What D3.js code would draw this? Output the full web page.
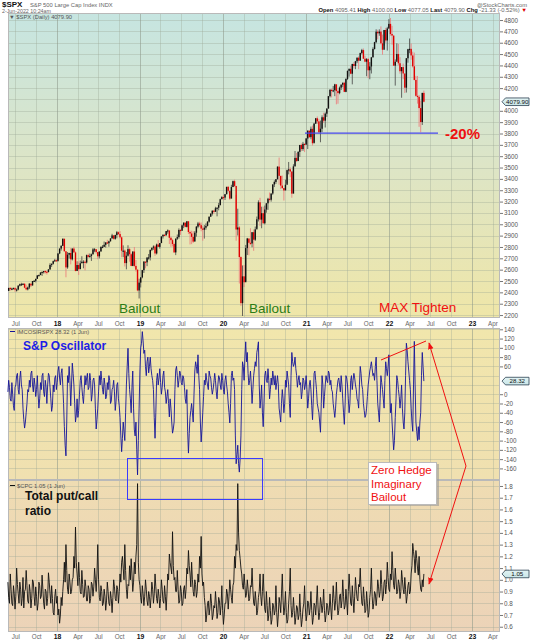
<!DOCTYPE html>
<html><head><meta charset="utf-8">
<script src="https://cdn.jsdelivr.net/npm/d3@7"></script>
<style>body{margin:0;background:#fff;}svg{display:block;font-family:"Liberation Sans",Arial,sans-serif;}</style>
</head><body><svg id="c" width="533" height="640"></svg>
<script>
// ---------- DATA ----------
// SPX: weekly bars, first week ending 2017-06-02
const firstWeek = "2017-06-02";
const spxClose = [
2439,2432,2433,2438,2423,2425,2459,2472,2472,2476,2441,2426,2443,2477,2461,2500,2502,2519,2549,2553,2575,2581,2588,2582,2579,2602,2642,2652,2675,2683,2674,
2743,2786,2810,2873,2762,2620,2732,2747,2691,2786,2752,2588,2641,2604,2656,2670,2670,2663,2728,2713,2721,2735,2779,2780,2755,2718,2760,2801,2802,2819,2840,2833,2850,2875,2902,2872,2905,2930,2914,2885,2767,2768,2658,2723,2781,2736,2633,2760,2633,2600,2417,2486,
2532,2596,2671,2665,2707,2708,2775,2793,2804,2743,2822,2801,2834,2893,2907,2905,2940,2946,2881,2860,2826,2752,2873,2887,2950,2942,2990,3014,2977,3026,2932,2919,2889,2847,2926,2979,3007,2992,2962,2952,2970,2986,3023,3067,3093,3120,3110,3141,3146,3169,3221,3240,
3235,3265,3330,3295,3226,3328,3380,3338,2954,2972,2711,2305,2541,2489,2790,2875,2837,2831,2930,2864,2955,3044,3194,3041,3098,3009,3130,3185,3225,3216,3271,3351,3373,3397,3508,3427,3341,3319,3298,3348,3477,3484,3465,3270,3510,3585,3557,3638,3699,3663,3709,3703,3756,
3825,3768,3841,3714,3887,3934,3907,3811,3842,3943,3913,3975,4020,4129,4185,4180,4181,4233,4174,4156,4204,4230,4247,4167,4281,4352,4370,4327,4412,4395,4437,4468,4442,4509,4535,4459,4433,4455,4357,4391,4471,4545,4605,4697,4683,4698,4595,4538,4712,4620,4726,4766,
4677,4663,4398,4432,4501,4419,4349,4385,4329,4204,4463,4543,4546,4488,4392,4272,4132,4123,4024,3901,4158,4080];
const spxHigh = [
2440,2446,2441,2442,2447,2434,2463,2477,2484,2480,2480,2468,2451,2480,2475,2500,2508,2520,2552,2557,2576,2582,2589,2597,2590,2605,2657,2654,2680,2695,2692,
2743,2787,2815,2873,2870,2763,2755,2749,2790,2787,2802,2761,2674,2672,2680,2718,2683,2682,2733,2742,2742,2742,2791,2790,2780,2754,2760,2804,2816,2848,2841,2863,2855,2877,2916,2902,2908,2941,2937,2940,2893,2814,2778,2756,2815,2795,2746,2760,2800,2685,2601,2520,
2532,2598,2675,2671,2709,2738,2775,2795,2814,2816,2830,2861,2835,2893,2911,2916,2940,2955,2933,2892,2871,2838,2875,2910,2964,2958,2996,3017,3017,3028,3028,2944,2943,2939,2940,2985,3021,3022,3016,2983,2993,3008,3027,3068,3098,3121,3127,3154,3150,3188,3226,3248,
3258,3267,3330,3338,3285,3348,3385,3393,3259,3137,2985,2718,2637,2641,2818,2880,2871,2965,2932,2954,2980,3068,3211,3233,3155,3155,3165,3185,3233,3280,3272,3352,3387,3399,3510,3588,3425,3429,3320,3393,3482,3549,3502,3466,3529,3646,3628,3644,3699,3712,3726,3712,3760,
3827,3823,3861,3870,3894,3937,3950,3929,3914,3960,3983,3986,4021,4130,4191,4195,4219,4238,4236,4187,4214,4234,4249,4256,4286,4355,4372,4394,4415,4430,4440,4470,4480,4513,4546,4549,4486,4465,4466,4429,4475,4560,4608,4718,4714,4718,4744,4672,4713,4731,4740,4808,
4818,4749,4663,4453,4595,4590,4472,4386,4416,4299,4465,4546,4637,4593,4521,4513,4308,4307,4140,4090,4158,4178];
const spxLow = [
2413,2415,2419,2428,2405,2407,2418,2452,2459,2464,2437,2418,2417,2429,2447,2460,2494,2488,2520,2541,2551,2545,2566,2566,2557,2576,2600,2624,2645,2672,2673,
2682,2737,2768,2808,2759,2533,2608,2698,2647,2681,2748,2586,2593,2553,2610,2660,2612,2594,2655,2705,2707,2677,2735,2754,2741,2692,2699,2760,2789,2800,2795,2830,2802,2848,2876,2864,2864,2876,2904,2874,2710,2710,2628,2603,2715,2670,2631,2631,2621,2583,2409,2346,
2443,2524,2571,2612,2631,2688,2681,2764,2775,2722,2734,2800,2785,2849,2874,2898,2897,2917,2826,2801,2805,2750,2728,2862,2873,2906,2952,2966,2974,2972,2914,2822,2825,2835,2853,2891,2965,2978,2938,2855,2874,2952,2981,3014,3064,3077,3092,3112,3070,3123,3166,3221,
3212,3214,3264,3280,3214,3235,3329,3328,2855,2901,2478,2281,2192,2447,2500,2729,2727,2816,2797,2766,2853,2969,3025,2984,2965,3004,2999,3102,3127,3200,3200,3260,3328,3356,3396,3349,3310,3313,3209,3303,3361,3440,3415,3234,3280,3511,3550,3565,3594,3645,3647,3636,3699,
3663,3760,3749,3694,3725,3884,3885,3805,3723,3812,3894,3853,3946,4020,4118,4118,4164,4129,4057,4062,4146,4183,4208,4165,4164,4272,4301,4322,4233,4373,4367,4420,4367,4441,4498,4457,4428,4305,4288,4278,4329,4471,4540,4595,4630,4661,4585,4495,4575,4600,4531,4722,
4662,4582,4395,4222,4451,4401,4327,4115,4279,4157,4161,4424,4507,4450,4381,4268,4124,4063,3859,3811,3875,4074];
// Oscillator and put/call: two readings per week (3.5-day steps)
const oscValues = [
5,30,15,-10,-15,25,0,-25,-35,15,20,40,45,10,0,35,50,20,10,-30,
-55,-73,-60,-40,-20,10,5,30,15,45,50,20,5,35,20,-5,10,40,0,-30,
-10,25,10,40,45,5,-5,30,15,-20,20,45,40,15,-10,-37,-25,20,5,35,
40,10,25,50,60,35,20,45,55,20,-20,-70,-110,-133,-60,40,25,60,30,-25,
20,67,45,20,-20,-60,-45,-10,-50,-35,0,30,40,15,-5,-20,10,40,20,35,
45,10,15,45,30,-15,0,30,35,20,-30,-75,-55,-30,5,40,20,50,30,10,
0,35,20,-10,-5,25,10,40,30,-20,-15,10,15,30,5,-35,-15,20,25,-10,
-25,-50,-90,-124,-95,-60,-80,-100,-40,20,60,99,45,10,-10,-40,15,50,-30,-77,
-90,-60,-120,-174,-100,-30,50,100,110,135,115,88,95,60,40,70,80,46,60,80,
55,40,30,10,-50,-95,-40,30,45,20,35,55,25,0,15,40,50,15,5,-20,
-5,10,-20,-49,-10,-30,-60,-84,-75,-60,10,52,60,40,15,30,50,45,25,20,
40,35,15,-10,-20,10,-80,-127,-85,-50,-35,-20,-40,-60,0,50,70,60,45,85,
40,10,-60,-103,-75,-40,-5,30,20,45,30,20,10,50,40,35,15,0,10,25,
45,30,5,-10,20,40,35,20,10,45,30,10,0,30,40,20,5,-20,-40,-62,
-20,40,50,30,35,10,-90,-150,-130,-110,-150,-168,-140,-90,10,70,60,30,80,113,
70,90,45,20,30,50,20,-20,10,40,55,70,60,90,100,113,20,-30,-10,20,
-40,-70,-20,40,50,30,25,55,30,-10,10,35,20,50,35,20,40,10,25,40,
20,-30,-45,-60,-20,10,-10,-40,-20,30,15,50,35,20,-20,-50,40,90,70,60,
65,80,55,40,15,30,40,20,25,-10,5,35,30,10,20,40,10,-30,-10,20,
30,10,-25,-55,-10,45,50,30,10,-20,-30,-40,-60,-82,-20,40,20,-30,-5,20,
40,30,25,50,45,20,30,10,5,-20,-35,-50,-30,0,15,30,35,20,5,40,
20,-10,-40,-65,-20,40,35,20,-10,-40,-20,30,40,10,30,45,35,20,10,-10,
-15,-30,20,60,45,20,10,-20,-35,-50,-45,-30,-5,20,35,50,60,70,55,40,
45,30,60,80,30,-20,-40,-60,-10,40,25,10,-10,-30,30,70,55,40,60,85,
20,-40,-20,-60,-90,-120,-100,-50,-10,40,30,10,-5,-30,-10,20,-30,-60,-75,-40,
40,110,95,70,50,30,10,-30,-60,-80,20,114,20,-60,-80,-100,-70,-98,-60,-40,
40,90,60,28.32];
const cpcValues = [
0.98,0.85,0.80,1.05,0.92,0.80,0.78,0.95,0.88,0.75,0.86,1.10,0.96,0.88,0.80,0.98,0.92,0.78,0.84,1.02,
0.76,0.90,0.92,1.08,0.95,0.82,0.80,0.96,0.90,0.76,0.84,1.00,0.98,0.86,0.78,0.94,0.86,0.74,0.80,0.98,
0.95,0.84,0.86,1.04,0.92,0.80,0.75,0.92,0.90,0.78,0.84,1.06,0.98,0.88,0.80,0.95,0.84,0.72,0.70,0.86,
0.92,0.80,0.86,0.70,0.75,0.63,0.70,0.85,0.78,0.90,1.00,1.15,0.98,1.30,1.08,0.92,0.88,1.05,0.98,0.88,
0.90,1.00,1.02,1.20,1.10,1.45,1.15,1.05,0.95,1.15,1.02,0.90,0.88,1.08,0.96,0.85,0.86,1.00,0.94,0.82,
0.82,0.95,0.92,0.80,0.84,0.98,0.96,0.86,0.94,1.10,1.00,0.90,1.05,1.30,1.00,0.85,0.82,0.95,0.90,0.78,
0.80,0.92,0.86,0.74,0.82,0.98,0.90,0.80,0.78,0.90,0.84,0.72,0.85,1.00,0.94,0.84,0.82,0.95,0.92,0.80,
0.90,1.05,0.98,1.15,1.20,1.10,1.00,1.30,1.08,0.92,0.84,0.96,0.95,1.12,1.00,1.18,1.05,0.90,0.98,1.15,
1.05,1.20,1.30,1.82,1.15,1.00,0.95,0.85,0.80,0.95,0.88,0.78,0.86,1.00,0.92,0.82,0.78,0.90,0.86,0.76,
0.85,0.98,0.92,0.80,0.88,1.05,0.94,0.84,0.80,0.92,0.86,0.76,0.84,1.00,0.92,0.82,0.80,0.95,0.86,0.74,
0.88,1.05,1.00,1.22,1.15,1.10,1.05,1.41,1.12,1.00,1.02,0.90,0.90,1.08,0.92,0.80,0.82,0.95,0.90,0.78,
0.80,0.92,0.95,0.84,0.92,1.10,1.05,1.25,1.12,1.05,0.94,1.15,1.00,0.90,0.86,1.00,0.96,0.85,0.90,1.05,
0.98,1.20,1.10,1.37,1.05,0.95,0.98,0.85,0.78,0.64,0.70,0.80,0.82,0.70,0.76,0.88,0.80,0.66,0.70,0.78,
0.76,0.90,0.80,0.67,0.72,0.85,0.82,0.70,0.78,0.95,0.74,0.62,0.70,0.80,0.80,0.92,0.88,0.75,0.86,1.00,
0.92,0.85,0.80,0.95,0.98,1.20,1.10,1.30,1.25,1.82,1.40,1.25,1.18,1.10,1.05,0.95,0.92,1.05,0.95,0.85,
0.88,1.00,0.92,0.82,0.84,0.95,0.94,1.10,0.92,0.80,0.78,0.90,0.82,0.70,0.74,0.85,0.90,1.05,0.86,0.78,
0.90,1.05,0.88,0.75,0.72,0.90,0.78,0.65,0.70,0.85,0.74,0.62,0.66,0.80,0.78,0.70,0.74,0.95,0.72,0.60,
0.70,0.85,0.80,0.72,0.88,1.05,0.82,0.70,0.76,0.90,0.72,0.63,0.66,0.80,0.90,1.10,0.78,0.68,0.72,0.85,
0.74,0.62,0.68,0.78,0.76,0.66,0.70,0.88,0.72,0.60,0.66,0.75,0.80,0.95,0.76,0.65,0.70,0.82,0.80,0.70,
0.76,0.90,0.74,0.62,0.68,0.80,0.78,0.70,0.82,0.95,0.76,0.66,0.72,0.85,0.80,0.72,0.78,0.92,0.74,0.64,
0.70,0.80,0.78,0.70,0.74,0.88,0.76,0.66,0.80,0.95,0.84,0.74,0.82,0.98,0.80,0.70,0.74,0.86,0.88,0.76,
0.82,1.00,0.86,0.75,0.78,0.92,0.82,0.70,0.90,1.05,0.92,0.80,0.78,0.95,0.84,0.72,0.86,1.02,0.92,0.84,
0.82,0.96,0.94,1.10,0.92,0.80,0.78,0.94,0.84,0.72,0.74,0.90,0.80,0.68,0.72,0.85,0.92,1.10,0.86,0.75,
0.80,0.90,0.88,0.78,0.86,1.00,0.94,0.85,0.90,1.08,0.96,0.82,0.86,0.98,1.00,0.88,0.96,1.15,1.02,0.92,
0.90,1.05,1.00,1.24,1.08,0.95,0.92,1.10,1.00,0.88,0.90,1.00,0.96,0.84,0.90,1.08,1.00,0.92,0.88,1.02,
0.92,0.80,0.86,0.95,0.98,0.88,0.90,1.05,1.12,1.31,1.24,1.18,1.06,1.25,1.18,1.10,1.04,1.20,1.00,0.92,
0.90,1.00,0.94,1.05];
const spxTicks = [2200,2300,2400,2500,2600,2700,2800,2900,3000,3100,3200,3300,3400,3500,3600,3700,3800,3900,4000,4100,4200,4300,4400,4500,4600,4700,4800];
const oscTicks = [140,120,100,80,60,40,20,0,-20,-40,-60,-80,-100,-120,-140,-160];
const cpcTicks = [1.8,1.7,1.6,1.5,1.4,1.3,1.2,1.1,1.0,0.9,0.8,0.7,0.6];
const monthNames = ["","","","Apr","","","Jul","","","Oct","",""];
const spxLast = 4079.90, oscLast = 28.32, cpcLast = 1.05;
const drawdownLevel = 3803;

// ---------- LAYOUT ----------
const L = 8, R = 500;
const svg = d3.select("#c");
const defs = svg.append("defs");
function grad(id, stops){
  const g = defs.append("linearGradient").attr("id", id).attr("x1",0).attr("y1",0).attr("x2",0).attr("y2",1);
  stops.forEach(s => g.append("stop").attr("offset", s[0]).attr("stop-color", s[1]));
}
grad("g1", [[0,"#c6e5e1"],[0.5,"#dde5c6"],[1,"#efe6a8"]]);
grad("g2", [[0,"#f1e6ac"],[1,"#f0e0b0"]]);
grad("g3", [[0,"#efdcb2"],[1,"#ecd3b8"]]);
grad("gb", [[0,"#e2f3f3"],[1,"#c9e6e8"]]);

const x = d3.scaleTime().domain([new Date(2017,4,30), new Date(2023,4,4)]).range([L, R]);
const start = new Date(firstWeek + "T00:00:00");
const dates = spxClose.map((_, i) => d3.timeDay.offset(start, 7 * i));
const halfDates = oscValues.map((_, j) => d3.timeHour.offset(start, 84 * (j - 1)));
const qTicks = x.ticks(d3.timeMonth.every(3)).filter(d => d >= x.domain()[0] && d <= x.domain()[1]);

const lastVals = [spxLast, oscLast, cpcLast];
const panels = [
  {top:13, bot:318, dom:[2174,4862], fill:"url(#g1)", ticks:spxTicks, fmt:d=>d},
  {top:328, bot:480, dom:[-185,142.8], fill:"url(#g2)", ticks:oscTicks, fmt:d=>d},
  {top:480, bot:632, dom:[0.555,1.851], fill:"url(#g3)", ticks:cpcTicks, fmt:d=>d.toFixed(1)}
];
panels.forEach((p, k) => {
  p.y = d3.scaleLinear().domain(p.dom).range([p.bot, p.top]);
  const g = svg.append("g");
  g.append("rect").attr("x", L).attr("y", p.top).attr("width", R - L).attr("height", p.bot - p.top).attr("fill", p.fill);
  g.selectAll(".h").data(p.ticks).join("line")
    .attr("x1", L).attr("x2", R).attr("y1", d => Math.round(p.y(d)) + 0.5).attr("y2", d => Math.round(p.y(d)) + 0.5)
    .attr("stroke", "#9aa596").attr("stroke-opacity", 0.35).attr("stroke-width", 1);
  g.selectAll(".v").data(qTicks).join("line")
    .attr("x1", d => Math.round(x(d)) + 0.5).attr("x2", d => Math.round(x(d)) + 0.5).attr("y1", p.top).attr("y2", p.bot)
    .attr("stroke", d => d.getMonth() === 0 ? "#8c9888" : "#9aa596")
    .attr("stroke-opacity", d => d.getMonth() === 0 ? 0.55 : 0.35);
  g.append("rect").attr("x", L + 0.5).attr("y", p.top + 0.5).attr("width", R - L - 1).attr("height", p.bot - p.top - 1)
    .attr("fill", "none").attr("stroke", "#b9b9b9").attr("stroke-width", 1);
  const yl = p.y(lastVals[k]);
  const shown = p.ticks.filter(t => Math.abs(p.y(t) - yl) > 5.5);
  const ax = svg.append("g").attr("transform", `translate(${R},0)`)
    .call(d3.axisRight(p.y).tickValues(shown).tickSize(3).tickFormat(p.fmt));
  ax.select(".domain").remove();
  ax.selectAll("line").attr("stroke", "#777");
  ax.selectAll("text").attr("font-size", 6.3).attr("fill", "#555").attr("x", 4).attr("font-family", "Liberation Sans, Arial, sans-serif");
});

function xLabels(yy){
  const g = svg.append("g");
  g.selectAll("text").data(qTicks).join("text")
    .attr("x", d => x(d) + 0.5).attr("y", yy).attr("text-anchor", "middle")
    .attr("font-size", d => d.getMonth() === 0 ? 6.8 : 6.3)
    .attr("font-weight", d => d.getMonth() === 0 ? "bold" : "normal")
    .attr("fill", d => d.getMonth() === 0 ? "#111" : "#666")
    .text(d => d.getMonth() === 0 ? d3.timeFormat("%y")(d) : monthNames[d.getMonth()]);
}
xLabels(325.5);
xLabels(638.5);

// ---------- SPX candles ----------
const P1 = panels[0], P2 = panels[1], P3 = panels[2];
const candles = spxClose.map((c, i) => ({d: dates[i], o: i ? spxClose[i-1] : spxLow[0], h: spxHigh[i], l: spxLow[i], c, up: i ? c >= spxClose[i-1] : true}));
const cg = svg.append("g");
cg.selectAll("line").data(candles).join("line")
  .attr("x1", d => x(d.d)).attr("x2", d => x(d.d)).attr("y1", d => P1.y(d.h)).attr("y2", d => P1.y(d.l))
  .attr("stroke", d => d.up ? "#444" : "#e77").attr("stroke-width", 1).attr("stroke-opacity", 0.8);
cg.selectAll("rect").data(candles).join("rect")
  .attr("x", d => x(d.d) - 0.7).attr("width", 1.4)
  .attr("y", d => P1.y(Math.max(d.o, d.c))).attr("height", d => Math.max(1.2, Math.abs(P1.y(d.o) - P1.y(d.c))))
  .attr("fill", d => d.up ? "#111" : "#e00000");

// ---------- Oscillator ----------
svg.append("path").datum(oscValues)
  .attr("d", d3.line().x((v, j) => x(halfDates[j])).y(v => P2.y(v)))
  .attr("fill", "none").attr("stroke", "#14149a").attr("stroke-width", 0.9);
// ---------- Put/Call ----------
svg.append("path").datum(cpcValues)
  .attr("d", d3.line().x((v, j) => x(halfDates[j])).y(v => P3.y(v)))
  .attr("fill", "none").attr("stroke", "#111").attr("stroke-width", 0.9);

function valueBox(yy, txt){
  svg.append("polygon").attr("points", `${R+2},${yy} ${R+5.5},${yy-3.8} ${R+29},${yy-3.8} ${R+29},${yy+3.8} ${R+5.5},${yy+3.8}`)
    .attr("fill", "url(#gb)").attr("stroke", "#2b4050").attr("stroke-width", 0.8);
  svg.append("text").attr("x", R + 17.3).attr("y", yy + 2.2).attr("text-anchor", "middle").attr("font-size", 6.2).attr("fill", "#111").text(txt);
}
valueBox(P1.y(spxLast), spxLast.toFixed(2));
valueBox(P2.y(oscLast), oscLast.toFixed(2));
valueBox(P3.y(cpcLast), cpcLast.toFixed(2));

// ---------- header ----------
const hd = svg.append("g");
hd.append("text").attr("x", 2).attr("y", 6.8).attr("font-size", 8).attr("font-weight", "bold").attr("fill", "#111").text("$SPX");
hd.append("text").attr("x", 30).attr("y", 6.8).attr("font-size", 5.8).attr("fill", "#666").text("S&P 500 Large Cap Index  INDX");
hd.append("text").attr("x", 2).attr("y", 12.8).attr("font-size", 5.3).attr("fill", "#666").text("2-Jun-2022  10:24am");
hd.append("text").attr("x", 527).attr("y", 6.5).attr("text-anchor", "end").attr("font-size", 5.8).attr("fill", "#666").text("@StockCharts.com");
const q = hd.append("text").attr("x", 527).attr("y", 12.4).attr("text-anchor", "end").attr("font-size", 5.8).attr("fill", "#666");
[["Open ", 1], ["4095.41  ", 0], ["High ", 1], ["4100.00  ", 0], ["Low ", 1], ["4077.05  ", 0], ["Last ", 1], ["4079.90  ", 0], ["Chg ", 1], ["-21.33 (-0.52%) ", 0], ["▼", 2]]
  .forEach(([t, b]) => q.append("tspan").attr("font-weight", b === 1 ? "bold" : "normal").attr("fill", b === 1 ? "#111" : b === 2 ? "#d00" : "#666").text(t));
svg.append("text").attr("x", 9).attr("y", 19).attr("font-size", 5.8).attr("fill", "#555").text("▼ $SPX (Daily) 4079.90");
svg.append("line").attr("x1", 10).attr("x2", 15).attr("y1", 331.5).attr("y2", 331.5).attr("stroke", "#14149a").attr("stroke-width", 1);
svg.append("text").attr("x", 17).attr("y", 333.5).attr("font-size", 5.8).attr("fill", "#555").text("IMCOSIRSPX 28.32 (1 Jun)");
svg.append("line").attr("x1", 10).attr("x2", 15).attr("y1", 485.5).attr("y2", 485.5).attr("stroke", "#111").attr("stroke-width", 1);
svg.append("text").attr("x", 17).attr("y", 487.5).attr("font-size", 5.8).attr("fill", "#555").text("$CPC 1.05 (1 Jun)");

// ---------- annotations ----------
const an = svg.append("g");
an.append("line").attr("x1", 305).attr("x2", 438).attr("y1", P1.y(drawdownLevel)).attr("y2", P1.y(drawdownLevel)).attr("stroke", "#4646ee").attr("stroke-width", 1.2);
an.append("text").attr("x", 445).attr("y", 138.5).attr("font-size", 15).attr("font-weight", "bold").attr("fill", "#ee1111").text("-20%");
an.append("text").attr("x", 119).attr("y", 313).attr("font-size", 13.5).attr("fill", "#2a7d16").text("Bailout");
an.append("text").attr("x", 249).attr("y", 313).attr("font-size", 13.5).attr("fill", "#2a7d16").text("Bailout");
an.append("text").attr("x", 379).attr("y", 312).attr("font-size", 13.5).attr("fill", "#f01010").text("MAX Tighten");
an.append("text").attr("x", 23).attr("y", 350).attr("font-size", 12).attr("font-weight", "bold").attr("fill", "#1e1ee6").text("S&P Oscillator");
an.append("text").attr("x", 25).attr("y", 500).attr("font-size", 12).attr("font-weight", "bold").attr("fill", "#111").text("Total put/call");
an.append("text").attr("x", 25).attr("y", 515).attr("font-size", 12).attr("font-weight", "bold").attr("fill", "#111").text("ratio");
an.append("rect").attr("x", 127.5).attr("y", 458.5).attr("width", 135).attr("height", 41).attr("fill", "none").attr("stroke", "#3b3bff").attr("stroke-width", 1);
an.append("rect").attr("x", 370).attr("y", 464).attr("width", 69).attr("height", 42).attr("fill", "#999").attr("opacity", 0.6);
an.append("rect").attr("x", 368.5).attr("y", 462.5).attr("width", 68).attr("height", 42).attr("fill", "#fff").attr("stroke", "#bbb");
["Zero Hedge", "Imaginary", "Bailout"].forEach((t, i) =>
  an.append("text").attr("x", 371).attr("y", 474 + i * 13.5).attr("font-size", 11.5).attr("fill", "#f01010").text(t));
defs.append("marker").attr("id", "ah").attr("viewBox", "0 0 10 10").attr("refX", 9).attr("refY", 5)
  .attr("markerWidth", 7).attr("markerHeight", 7).attr("orient", "auto-start-reverse")
  .append("path").attr("d", "M0,1 L10,5 L0,9 z").attr("fill", "#f01010");
an.append("line").attr("x1", 381).attr("y1", 360).attr("x2", 426).attr("y2", 341).attr("stroke", "#f01010").attr("stroke-width", 1);
an.append("line").attr("x1", 466).attr("y1", 466).attr("x2", 429).attr("y2", 343).attr("stroke", "#f01010").attr("stroke-width", 1).attr("marker-end", "url(#ah)");
an.append("line").attr("x1", 466).attr("y1", 466).attr("x2", 429).attr("y2", 584).attr("stroke", "#f01010").attr("stroke-width", 1).attr("marker-end", "url(#ah)");
</script></body></html>
